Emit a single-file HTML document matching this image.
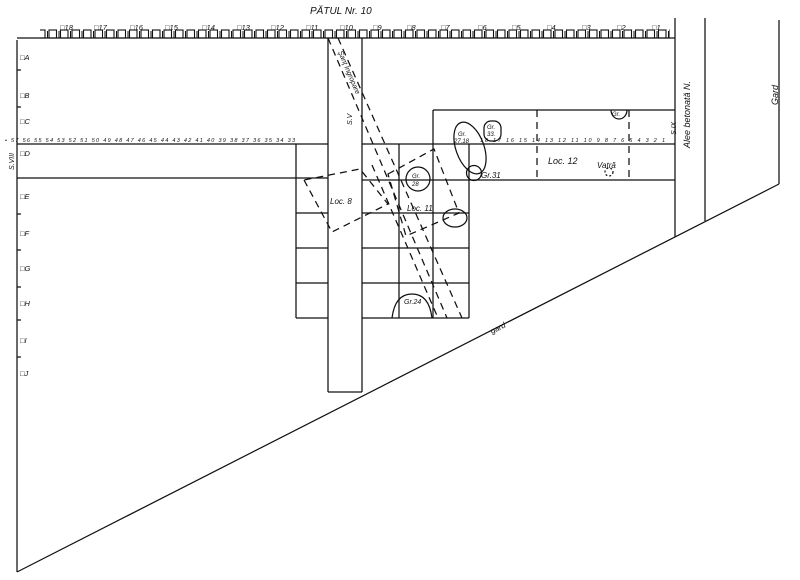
<!DOCTYPE html>
<html><head><meta charset="utf-8"><style>
html,body{margin:0;padding:0;background:#fff}
svg{display:block}
text{font-family:"Liberation Sans",sans-serif;font-style:italic;fill:#111}
</style></head><body>
<svg width="800" height="580" viewBox="0 0 800 580" xmlns="http://www.w3.org/2000/svg">
<defs>
<pattern id="sq" x="47" y="0" width="11.5" height="60" patternUnits="userSpaceOnUse">
<rect x="2" y="30" width="7.5" height="8" fill="none" stroke="#111" stroke-width="1.1"/>
<line x1="0.5" y1="31" x2="0.5" y2="38" stroke="#111" stroke-width="1"/>
</pattern>
</defs>
<g stroke="#111" stroke-width="1.25" fill="none">
<line x1="17" y1="38" x2="675" y2="38"/>
<line x1="17" y1="40" x2="17" y2="572"/>
<line x1="17" y1="144" x2="328" y2="144"/>
<line x1="17" y1="178" x2="328" y2="178"/>
<line x1="362" y1="144" x2="675" y2="144"/>
<line x1="362" y1="180" x2="675" y2="180"/>
<line x1="433" y1="110" x2="675" y2="110"/>
<line x1="433" y1="110" x2="433" y2="318"/>
<line x1="328" y1="38" x2="328" y2="392"/>
<line x1="362" y1="38" x2="362" y2="392"/>
<line x1="328" y1="392" x2="362" y2="392"/>
<line x1="296" y1="144" x2="296" y2="318"/>
<line x1="296" y1="213" x2="328" y2="213"/>
<line x1="296" y1="248" x2="328" y2="248"/>
<line x1="296" y1="283" x2="328" y2="283"/>
<line x1="296" y1="318" x2="328" y2="318"/>
<line x1="399" y1="144" x2="399" y2="318"/>
<line x1="469" y1="144" x2="469" y2="318"/>
<line x1="362" y1="213" x2="469" y2="213"/>
<line x1="362" y1="248" x2="469" y2="248"/>
<line x1="362" y1="283" x2="469" y2="283"/>
<line x1="362" y1="318" x2="469" y2="318"/>
<line x1="675" y1="18" x2="675" y2="237"/>
<line x1="705" y1="18" x2="705" y2="221"/>
<line x1="779" y1="20" x2="779" y2="184"/>
<line x1="779" y1="184" x2="17" y2="572"/>
<g stroke-dasharray="7,5">
<line x1="328" y1="38" x2="447" y2="318"/>
<line x1="338" y1="38" x2="462" y2="318"/>
<line x1="372" y1="165" x2="438" y2="318"/>
<polygon points="304,180 332,232 388,204 360,169"/>
<polygon points="388,174 434,149 459,213 406,236"/>
<line x1="537" y1="110" x2="537" y2="180"/>
<line x1="629" y1="110" x2="629" y2="180"/>
</g>
<ellipse cx="470" cy="148" rx="14" ry="27" transform="rotate(-20 470 148)"/>
<circle cx="474" cy="173" r="7.5"/>
<circle cx="418" cy="179" r="12"/>
<rect x="484" y="121" width="17" height="20" rx="7"/>
<path d="M611 110 A8 9 0 0 0 627 110"/>
<ellipse cx="455" cy="218" rx="12" ry="9"/>
<path d="M392 318 Q395 294 412 294 Q429 294 432 318"/>
<circle cx="609" cy="172" r="4" stroke-dasharray="2,2"/>
<line x1="17" y1="70" x2="21" y2="70"/><line x1="17" y1="107" x2="21" y2="107"/>
<line x1="17" y1="214" x2="21" y2="214"/><line x1="17" y1="250" x2="21" y2="250"/>
<line x1="17" y1="287" x2="21" y2="287"/><line x1="17" y1="320" x2="21" y2="320"/>
<line x1="17" y1="357" x2="21" y2="357"/>
</g>
<rect x="40" y="28" width="630" height="12" fill="url(#sq)"/>
<g font-size="7.5">
<text x="60" y="30">□18</text><text x="94" y="30">□17</text><text x="130" y="30">□16</text>
<text x="165" y="30">□15</text><text x="202" y="30">□14</text><text x="237" y="30">□13</text>
<text x="271" y="30">□12</text><text x="306" y="30">□11</text><text x="340" y="30">□10</text>
<text x="373" y="30">□9</text><text x="407" y="30">□8</text><text x="441" y="30">□7</text>
<text x="478" y="30">□6</text><text x="512" y="30">□5</text><text x="547" y="30">□4</text>
<text x="582" y="30">□3</text><text x="617" y="30">□2</text><text x="652" y="30">□1</text>
</g>
<text x="310" y="14" font-size="10">PĂTUL  Nr. 10</text>
<g font-size="5.5">
<text x="5" y="142" textLength="290">• 57 56 55 54 53 52 51 50 49 48 47 46 45 44 43 42 41 40 39 38 37 36 35 34 33</text>
<text x="480" y="142" textLength="185">18 17 16 15 14 13 12 11 10 9 8 7 6 5 4 3 2 1</text>
</g>
<g font-size="7.5">
<text x="20" y="60">□A</text><text x="20" y="98">□B</text><text x="20" y="124">□C</text>
<text x="20" y="156">□D</text><text x="20" y="199">□E</text><text x="20" y="236">□F</text>
<text x="20" y="271">□G</text><text x="20" y="306">□H</text><text x="20" y="343">□I</text>
<text x="20" y="376">□J</text>
</g>
<g font-size="8">
<text x="330" y="204">Loc. 8</text>
<text x="407" y="211">Loc. 11</text>
<text x="548" y="164" font-size="9">Loc. 12</text>
<text x="597" y="168">Vatră</text>
<text x="481" y="178">Gr.31</text>
<text x="404" y="304" font-size="7">Gr.24</text>
<text x="492" y="334" transform="rotate(-27 492 334)">gard</text>
</g>
<g font-size="6">
<text x="458" y="136">Gr.</text><text x="454" y="143">27.18</text>
<text x="412" y="178">Gr.</text><text x="412" y="186">28</text>
<text x="487" y="129">Gr.</text><text x="487" y="136">33.</text>
<text x="612" y="116">Gr.</text>
</g>
<text transform="translate(690 148) rotate(-90)" font-size="9">Alee betonată   N.</text>
<text transform="translate(778 105) rotate(-90)" font-size="9">Gard</text>
<text transform="translate(676 135) rotate(-90)" font-size="7">S.IX</text>
<text transform="translate(14 170) rotate(-90)" font-size="7">S.VIII</text>
<text transform="translate(338 52) rotate(67)" font-size="7">Şanţ Ingropare</text>
<text transform="translate(352 125) rotate(-90)" font-size="7">S.V</text>
</svg>
</body></html>
